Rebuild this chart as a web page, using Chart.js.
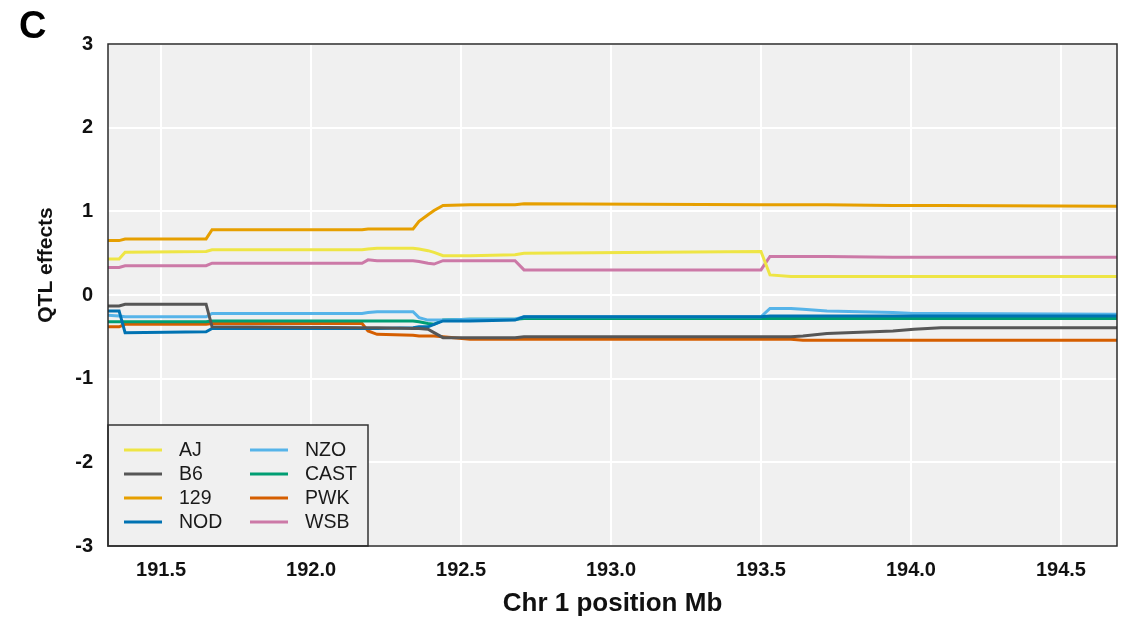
<!DOCTYPE html>
<html lang="en">
<head>
    <meta charset="UTF-8">
    <title>QTL effects - Chr 1</title>
    <script src="https://cdn.jsdelivr.net/npm/chart.js"></script>
    <style>
        body {
            margin: 0;
            background: #fff;
        }
        #wrap {
            width: 1141px;
            height: 625px;
        }
    </style>
</head>
<body>
    <div id="wrap">
        <canvas id="qtlChart" width="1141" height="625"></canvas>
    </div>

    <script>
        // marker positions (Mb) where the effects were read
        const positions = [191.32, 191.36, 191.38, 191.65, 191.67, 192.17, 192.19, 192.22, 192.34, 192.36,
                           192.39, 192.41, 192.44, 192.53, 192.68, 192.71, 193.50, 193.53, 193.60, 193.64,
                           193.72, 193.94, 194.01, 194.10, 194.69];

        const strains = ['AJ', 'B6', '129', 'NOD', 'NZO', 'CAST', 'PWK', 'WSB'];
        const strainColors = ['#EEE545', '#565656', '#E69F00', '#0072B2', '#56B4E9', '#009E73', '#D55E00', '#CC79A7'];

        const effAJ   = [0.43, 0.43, 0.51, 0.52, 0.54, 0.54, 0.55, 0.56, 0.56, 0.55, 0.53, 0.51, 0.47, 0.47, 0.48, 0.50, 0.52, 0.24, 0.22, 0.22, 0.22, 0.22, 0.22, 0.22, 0.22];
        const effB6   = [-0.13, -0.13, -0.11, -0.11, -0.38, -0.39, -0.39, -0.39, -0.40, -0.40, -0.41, -0.45, -0.51, -0.51, -0.51, -0.50, -0.50, -0.50, -0.50, -0.49, -0.46, -0.43, -0.41, -0.39, -0.39];
        const eff129  = [0.65, 0.65, 0.67, 0.67, 0.78, 0.78, 0.79, 0.79, 0.79, 0.88, 0.96, 1.01, 1.07, 1.08, 1.08, 1.09, 1.08, 1.08, 1.08, 1.08, 1.08, 1.07, 1.07, 1.07, 1.06];
        const effNOD  = [-0.19, -0.19, -0.45, -0.44, -0.40, -0.40, -0.40, -0.40, -0.39, -0.38, -0.38, -0.35, -0.31, -0.31, -0.30, -0.26, -0.26, -0.25, -0.25, -0.25, -0.25, -0.25, -0.25, -0.25, -0.25];
        const effNZO  = [-0.24, -0.25, -0.26, -0.26, -0.22, -0.22, -0.21, -0.20, -0.20, -0.27, -0.30, -0.30, -0.30, -0.29, -0.29, -0.26, -0.26, -0.16, -0.16, -0.17, -0.19, -0.21, -0.22, -0.22, -0.23];
        const effCAST = [-0.32, -0.32, -0.32, -0.32, -0.31, -0.31, -0.31, -0.31, -0.31, -0.32, -0.34, -0.35, -0.30, -0.29, -0.29, -0.28, -0.28, -0.28, -0.28, -0.28, -0.28, -0.28, -0.28, -0.28, -0.28];
        const effPWK  = [-0.38, -0.38, -0.35, -0.35, -0.34, -0.34, -0.43, -0.47, -0.48, -0.49, -0.49, -0.49, -0.50, -0.53, -0.53, -0.53, -0.53, -0.53, -0.53, -0.54, -0.54, -0.54, -0.54, -0.54, -0.54];
        const effWSB  = [0.33, 0.33, 0.35, 0.35, 0.38, 0.38, 0.42, 0.41, 0.41, 0.40, 0.38, 0.37, 0.41, 0.41, 0.41, 0.30, 0.30, 0.46, 0.46, 0.46, 0.46, 0.45, 0.45, 0.45, 0.45];

        const xTicks = [191.5, 192.0, 192.5, 193.0, 193.5, 194.0, 194.5];
        const yTicks = [-3, -2, -1, 0, 1, 2, 3];

        const effects = [effAJ, effB6, eff129, effNOD, effNZO, effCAST, effPWK, effWSB];
        const fontFam = '"Liberation Sans", Arial, Helvetica, sans-serif';

        // panel background, frame, legend box, y title and the "C" label
        const panelPlugin = {
            id: 'panel',
            beforeDraw(chart) {
                const {ctx, chartArea: a} = chart;
                ctx.save();
                ctx.fillStyle = '#f0f0f0';
                ctx.fillRect(a.left, a.top, a.right - a.left, a.bottom - a.top);
                ctx.restore();
            },
            afterDraw(chart) {
                const {ctx, chartArea: a} = chart;
                ctx.save();

                // legend (two columns, inside the panel at bottom left)
                const box = {x: a.left, y: 425, w: 260, h: a.bottom - 425};
                ctx.fillStyle = '#f0f0f0';
                ctx.fillRect(box.x, box.y, box.w, box.h);
                ctx.strokeStyle = '#333';
                ctx.lineWidth = 1.5;
                ctx.strokeRect(box.x, box.y, box.w, box.h);

                const rows = [450, 474, 498, 522];
                ctx.font = '19.5px ' + fontFam;
                ctx.textBaseline = 'middle';
                chart.data.datasets.forEach((ds, i) => {
                    const col = Math.floor(i / 4);
                    const x0 = box.x + 16 + col * 126;
                    const y = rows[i % 4];
                    ctx.strokeStyle = ds.borderColor;
                    ctx.lineWidth = 3;
                    ctx.beginPath();
                    ctx.moveTo(x0, y);
                    ctx.lineTo(x0 + 38, y);
                    ctx.stroke();
                    ctx.fillStyle = '#1a1a1a';
                    ctx.fillText(ds.label, x0 + 55, y + 1);
                });

                // panel frame
                ctx.strokeStyle = '#2b2b2b';
                ctx.lineWidth = 1.5;
                ctx.strokeRect(a.left, a.top, a.right - a.left, a.bottom - a.top);

                // y axis title (sits a bit above the panel centre in the original)
                ctx.save();
                ctx.translate(46, 265);
                ctx.rotate(-Math.PI / 2);
                ctx.fillStyle = '#111';
                ctx.font = 'bold 21px ' + fontFam;
                ctx.textAlign = 'center';
                ctx.textBaseline = 'middle';
                ctx.fillText('QTL effects', 0, 0);
                ctx.restore();

                // panel letter
                ctx.fillStyle = '#000';
                ctx.font = 'bold 38px ' + fontFam;
                ctx.textBaseline = 'alphabetic';
                ctx.fillText('C', 19, 38);
                ctx.restore();
            }
        };

        const ctx = document.getElementById('qtlChart').getContext('2d');

        const chart = new Chart(ctx, {
            type: 'line',
            data: {
                datasets: strains.map((name, i) => ({
                    label: name,
                    data: positions.map((x, j) => ({x: x, y: effects[i][j]})),
                    borderColor: strainColors[i],
                    backgroundColor: strainColors[i],
                    borderWidth: 3,
                    pointRadius: 0,
                    tension: 0,
                    fill: false
                }))
            },
            options: {
                responsive: false,
                animation: false,
                layout: {
                    padding: {top: 44, right: 24, left: 0, bottom: 0}
                },
                plugins: {
                    legend: {display: false},
                    tooltip: {enabled: false}
                },
                scales: {
                    x: {
                        type: 'linear',
                        min: 191.323,
                        max: 194.687,
                        afterBuildTicks: s => { s.ticks = xTicks.map(v => ({value: v})); },
                        afterFit: s => { s.height = 79; },
                        grid: {color: '#ffffff', lineWidth: 2, drawTicks: false},
                        border: {display: false},
                        ticks: {
                            padding: 12,
                            color: '#111',
                            autoSkip: false,
                            maxRotation: 0,
                            font: {family: fontFam, size: 20, weight: 'bold'},
                            callback: v => v.toFixed(1)
                        },
                        title: {
                            display: true,
                            text: 'Chr 1 position Mb',
                            color: '#111',
                            font: {family: fontFam, size: 26, weight: 'bold'},
                            padding: {top: 0, bottom: 6}
                        }
                    },
                    y: {
                        type: 'linear',
                        min: -3,
                        max: 3,
                        afterBuildTicks: s => { s.ticks = yTicks.map(v => ({value: v})); },
                        afterFit: s => { s.width = 108; },
                        grid: {color: '#ffffff', lineWidth: 2, drawTicks: false},
                        border: {display: false},
                        ticks: {
                            padding: 15,
                            color: '#111',
                            font: {family: fontFam, size: 20, weight: 'bold'}
                        }
                    }
                }
            },
            plugins: [panelPlugin]
        });
    </script>
</body>
</html>
